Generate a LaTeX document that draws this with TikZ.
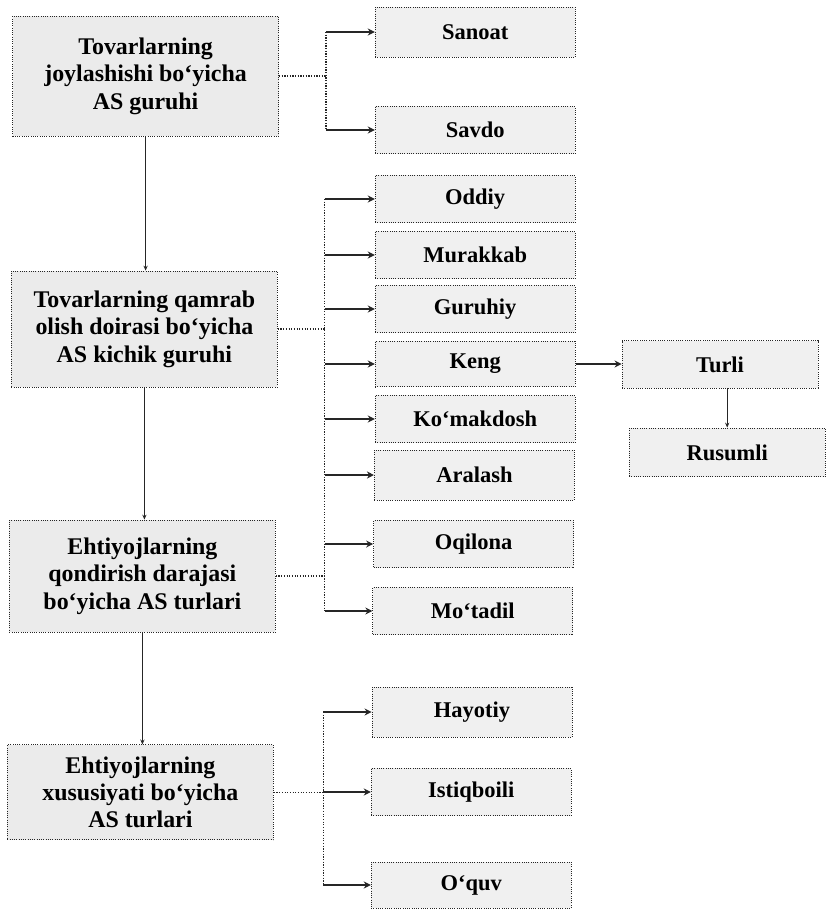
\documentclass[tikz,border=0pt]{standalone}
\usepackage{fontspec}
\setmainfont{Liberation Serif}
\usepackage{xcolor}
\usetikzlibrary{arrows.meta}

\begin{document}
\begin{tikzpicture}[
        box/.style={draw=black!85, densely dotted, line width=0.6pt, fill=black!8, minimum width=6.65cm, align=center, font=\fontsize{17}{19.5}\selectfont\bfseries, inner sep=2pt},
        subbox/.style={draw=black!85, densely dotted, line width=0.6pt, fill=black!6, minimum width=5cm, minimum height=1.18cm, align=center, font=\fontsize{16}{19}\selectfont\bfseries},
        arrow/.style={-{Stealth[length=5pt,width=5pt]}, line width=1.1pt, black!85},
        trunk/.style={-{Stealth[length=3.5pt,width=3pt]}, line width=0.9pt, black!85},
        dotline/.style={densely dotted, line width=0.9pt, black!85}
    ]
        \useasboundingbox (0,0) rectangle (20.65,-22.725);

        % left column
        \node[box, minimum height=3cm] (joy) at (3.64,-1.9) {Tovarlarning\\joylashishi bo‘yicha\\AS guruhi};
        \node[box, minimum height=2.9cm] (qamrab) at (3.61,-8.225) {Tovarlarning qamrab\\olish doirasi bo‘yicha\\AS kichik guruhi};
        \node[box, minimum height=2.8cm] (qondir) at (3.56,-14.4) {Ehtiyojlarning\\qondirish darajasi\\bo‘yicha AS turlari};
        \node[box, minimum height=2.375cm] (xusus) at (3.51,-19.81) {Ehtiyojlarning\\xususiyati bo‘yicha\\AS turlari};

        \draw[trunk] (joy.south) -- (joy.south |- qamrab.north);
        \draw[trunk] (qamrab.south) -- (qamrab.south |- qondir.north);
        \draw[trunk] (qondir.south) -- (qondir.south |- xusus.north);

        % right column
        \node[subbox, minimum height=1.25cm] (sanoat) at (11.88,-0.8) {Sanoat};
        \node[subbox] (savdo) at (11.88,-3.25) {Savdo};
        \node[subbox] (oddiy) at (11.88,-4.975) {Oddiy};
        \node[subbox] (murakkab) at (11.88,-6.375) {Murakkab};
        \node[subbox] (guruhiy) at (11.88,-7.725) {Guruhiy};
        \node[subbox, minimum height=1.13cm] (keng) at (11.88,-9.1) {Keng};
        \node[subbox] (komak) at (11.88,-10.475) {Ko‘makdosh};
        \node[subbox, minimum height=1.25cm] (aralash) at (11.86,-11.875) {Aralash};
        \node[subbox] (oqilona) at (11.84,-13.6) {Oqilona};
        \node[subbox] (motadil) at (11.82,-15.275) {Mo‘tadil};
        \node[subbox, minimum height=1.25cm] (hayotiy) at (11.8,-17.8) {Hayotiy};
        \node[subbox] (istiq) at (11.78,-19.8) {Istiqboili};
        \node[subbox, minimum height=1.15cm] (oquv) at (11.78,-22.125) {O‘quv};

        \node[subbox, minimum width=4.9cm] (turli) at (18.0,-9.11) {Turli};
        \node[subbox, minimum width=4.9cm, minimum height=1.22cm] (rusumli) at (18.18,-11.31) {Rusumli};

        \coordinate (bus1) at (8.15,0);
        \coordinate (bus2) at (8.12,0);
        \coordinate (bus3) at (8.08,0);

        % first group
        \draw[dotline] (joy.east) -- (joy.east -| bus1);
        \draw[dotline] (bus1 |- sanoat) -- (bus1 |- savdo);
        \foreach \n in {sanoat, savdo}
            \draw[arrow] (bus1 |- \n) -- (\n.west);

        % second and third groups share one bus
        \draw[dotline] (qamrab.east) -- (qamrab.east -| bus2);
        \draw[dotline] (qondir.east) -- (qondir.east -| bus2);
        \draw[dotline] (bus2 |- oddiy) -- (bus2 |- motadil);
        \foreach \n in {oddiy, murakkab, guruhiy, keng, komak, aralash, oqilona, motadil}
            \draw[arrow] (bus2 |- \n) -- (\n.west);

        \draw[arrow] (keng.east) -- (keng.east -| turli.west);
        \draw[trunk] (rusumli.north |- turli.south) -- (rusumli.north);

        % fourth group
        \draw[dotline] (xusus.east) -- (xusus.east -| bus3);
        \draw[dotline] (bus3 |- hayotiy) -- (bus3 |- oquv);
        \foreach \n in {hayotiy, istiq, oquv}
            \draw[arrow] (bus3 |- \n) -- (\n.west);
    \end{tikzpicture}
\end{document}
